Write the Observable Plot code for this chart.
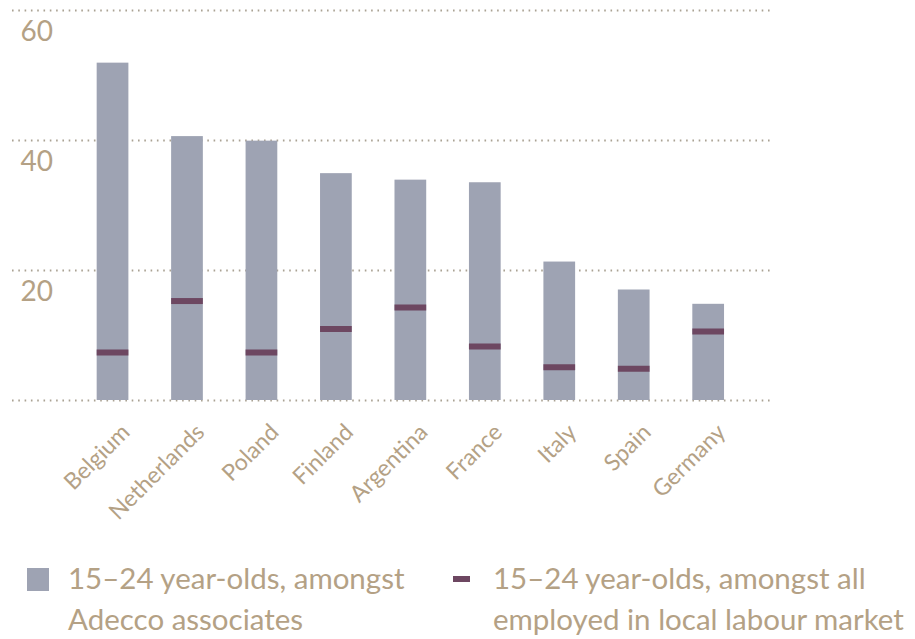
<!DOCTYPE html>
<html>
<head>
<meta charset="utf-8">
<script src="https://cdn.jsdelivr.net/npm/d3@7"></script>
<script src="https://cdn.jsdelivr.net/npm/@observablehq/plot@0.6"></script>
<style>
  html, body { margin: 0; padding: 0; background: #fff; }
  #wrap { position: relative; width: 915px; height: 639px; overflow: hidden; }
  #chart svg { display: block; }
  #legend { position: absolute; left: 0; top: 0; width: 915px; height: 639px; pointer-events: none;
    font-family: Lato, sans-serif; font-size: 29.5px; line-height: 41px; color: #b4a185; }
  #legend .item { position: absolute; top: 557px; white-space: nowrap; }
  #legend .sw { position: absolute; }
</style>
</head>
<body>
<div id="wrap">
  <div id="chart"></div>
  <div id="legend"></div>
</div>
<script>
const countries = ["Belgium", "Netherlands", "Poland", "Finland", "Argentina", "France", "Italy", "Spain", "Germany"];
const adeccoShare = [51.9, 40.6, 39.9, 34.9, 33.9, 33.5, 21.3, 17.0, 14.8];
const labourMarketShare = [7.4, 15.3, 7.4, 11.0, 14.3, 8.3, 5.1, 4.9, 10.6];
const yTickLabels = [20, 40, 60];
const gridValues = [0, 20, 40, 60];
const legendLabels = ["15–24 year-olds, amongst<br>Adecco associates", "15–24 year-olds, amongst all<br>employed in local labour market"];

const barColor = "#9ea3b3";
const tickColor = "#6d4761";
const textColor = "#b4a185";

const rows = countries.map((c, i) => ({country: c, adecco: adeccoShare[i], market: labourMarketShare[i]}));

const chart = Plot.plot({
  width: 915,
  height: 540,
  marginTop: 10,
  marginBottom: 140,
  marginLeft: 12,
  marginRight: 142,
  style: {fontFamily: "Lato, sans-serif", background: "#fff"},
  x: {domain: countries, range: [75.3, 745.4], paddingInner: 0.574, paddingOuter: 0.287, round: false, label: null},
  y: {domain: [0, 60], label: null},
  marks: [
    Plot.ruleY(gridValues, {stroke: "#aaa293", strokeWidth: 2, strokeDasharray: "1.6 4.7"}),
    Plot.barY(rows, {x: "country", y: "adecco", fill: barColor}),
    Plot.tickY(rows, {x: "country", y: "market", stroke: tickColor, strokeWidth: 6}),
    Plot.axisY({anchor: "left", ticks: yTickLabels, tickSize: 0, tickPadding: -8, textAnchor: "start",
      dy: 22, fontSize: 28, color: textColor, label: null}),
    Plot.axisX({tickSize: 0, tickPadding: 28, tickRotate: -45, dx: 13, fontSize: 23, color: textColor, label: null})
  ]
});
document.getElementById("chart").appendChild(chart);

const legend = document.getElementById("legend");
legend.innerHTML = `
  <div class="sw" style="left:27px;top:568px;width:22px;height:23px;background:${barColor}"></div>
  <div class="item" style="left:68px">${legendLabels[0]}</div>
  <div class="sw" style="left:453px;top:576px;width:17px;height:6px;background:${tickColor}"></div>
  <div class="item" style="left:493px">${legendLabels[1]}</div>`;
</script>
</body>
</html>
